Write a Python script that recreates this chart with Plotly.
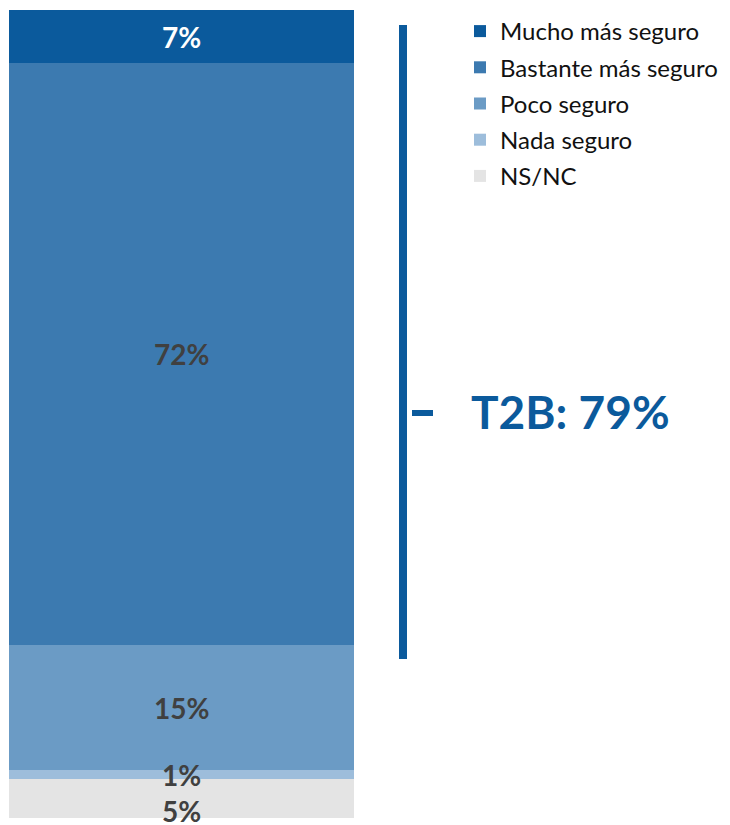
import plotly.graph_objects as go

# Stacked from bottom to top
categories = ["NS/NC", "Nada seguro", "Poco seguro", "Bastante más seguro", "Mucho más seguro"]
values = [4.8, 1.1, 15.5, 72.0, 6.6]
value_labels = ["5%", "1%", "15%", "72%", "7%"]
colors = ["#E4E4E4", "#9DBDDB", "#6B9BC5", "#3C7AB0", "#0B5A9C"]
label_colors = ["#404040", "#404040", "#404040", "#404040", "#FFFFFF"]
label_shift = [-12, 0, 0, 0, 0]
legend_rank = [5, 4, 3, 2, 1]
t2b_text = "T2B: 79%"

W, H = 730, 825
fig = go.Figure()
for cat, v, c, rk in zip(categories, values, colors, legend_rank):
    fig.add_trace(go.Bar(
        x=[0], y=[v], name=cat, marker=dict(color=c, line=dict(width=0)),
        width=1, legendgroup=cat, legendrank=rk, hoverinfo="skip",
    ))

# value labels at segment centres
cum = 0
for v, lab, lc, sh in zip(values, value_labels, label_colors, label_shift):
    fig.add_annotation(
        x=0, y=cum + v / 2, xref="x", yref="y", text=f"<b>{lab}</b>",
        showarrow=False, yshift=sh,
        font=dict(family="Lato", size=28, color=lc),
    )
    cum += v

blue = "#0B5A9C"
# bracket (positions in figure pixels)
fig.add_shape(type="line", xref="paper", yref="paper",
              x0=395 / W, x1=395 / W, y0=1 - 17 / H, y1=1 - 651 / H,
              line=dict(color=blue, width=8))
fig.add_shape(type="line", xref="paper", yref="paper",
              x0=404 / W, x1=425 / W, y0=1 - 405 / H, y1=1 - 405 / H,
              line=dict(color=blue, width=6))
fig.add_annotation(x=461 / W, y=1 - 403 / H, xref="paper", yref="paper",
                   xanchor="left", yanchor="middle", showarrow=False,
                   text=f"<b>{t2b_text}</b>",
                   font=dict(family="Lato", size=46, color=blue))

fig.update_layout(
    width=W, height=H,
    margin=dict(l=0, r=0, t=0, b=0),
    paper_bgcolor="white", plot_bgcolor="white",
    barmode="stack", bargap=0,
    showlegend=True,
    legend=dict(
        x=452 / W, y=1 - 1 / H, xanchor="left", yanchor="top",
        traceorder="grouped", tracegroupgap=2,
        font=dict(family="Lato", size=24, color="#111111"),
        bgcolor="rgba(0,0,0,0)",
    ),
    xaxis=dict(domain=[1 / W, 346 / W], range=[-0.5, 0.5], visible=False, fixedrange=True),
    yaxis=dict(domain=[15 / H, 823 / H], range=[0, 100], visible=False, fixedrange=True),
)

fig.write_html("out.html")
